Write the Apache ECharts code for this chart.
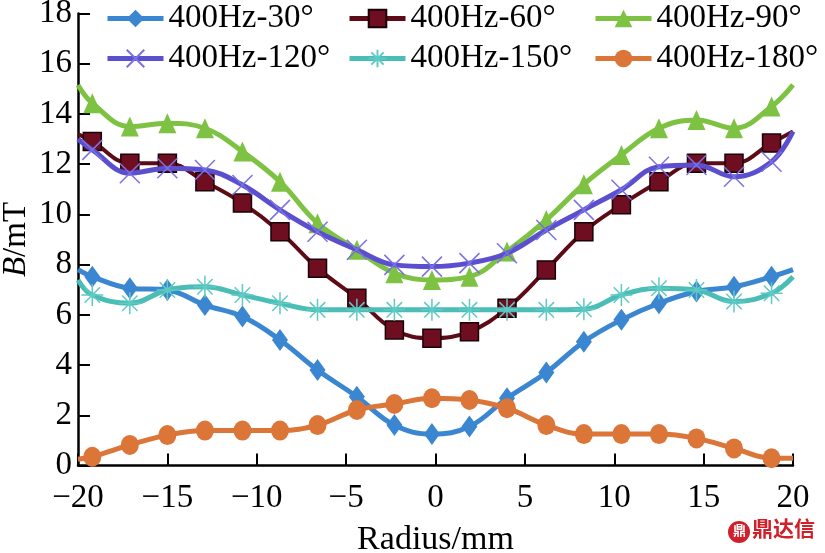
<!DOCTYPE html>
<html><head><meta charset="utf-8">
<script src="https://cdn.jsdelivr.net/npm/echarts@6/dist/echarts.min.js"></script>
<style>html,body{margin:0;padding:0;background:#fff}#c{width:825px;height:553px}</style>
</head><body><div id="c"></div>
<script>
// Radius positions (mm); first and last are the curve ends at the axis edges (no marker)
const radius = [-20, -19.2, -17.1, -15.0, -12.9, -10.8, -8.7, -6.6, -4.4, -2.3, -0.2, 1.9, 4.0, 6.2, 8.3, 10.4, 12.5, 14.6, 16.7, 18.8, 20];
const seriesNames = ['400Hz-30°', '400Hz-60°', '400Hz-90°', '400Hz-120°', '400Hz-150°', '400Hz-180°'];
const b30  = [7.8, 7.52, 7.06, 6.99, 6.39, 5.93, 5.0, 3.80, 2.74, 1.61, 1.25, 1.55, 2.68, 3.70, 4.93, 5.80, 6.46, 6.93, 7.12, 7.52, 7.8];
const b60  = [13.2, 12.9, 12.04, 12.04, 11.3, 10.45, 9.31, 7.86, 6.66, 5.4, 5.07, 5.33, 6.26, 7.79, 9.31, 10.38, 11.3, 12.04, 12.04, 12.84, 13.3];
const b90  = [15.15, 14.43, 13.5, 13.63, 13.43, 12.5, 11.3, 9.65, 8.59, 7.66, 7.39, 7.52, 8.52, 9.78, 11.2, 12.37, 13.43, 13.76, 13.43, 14.3, 15.16];
const b120 = [13.0, 12.57, 11.64, 11.84, 11.77, 11.17, 10.18, 9.31, 8.59, 7.99, 7.92, 8.06, 8.45, 9.38, 10.18, 10.98, 11.9, 11.97, 11.5, 12.1, 13.3];
const b150 = [7.39, 6.79, 6.46, 6.99, 7.12, 6.79, 6.46, 6.2, 6.2, 6.2, 6.2, 6.2, 6.2, 6.2, 6.22, 6.79, 7.06, 6.99, 6.53, 6.86, 7.52];
const b180 = [0.25, 0.35, 0.82, 1.21, 1.39, 1.39, 1.39, 1.61, 2.21, 2.45, 2.68, 2.61, 2.28, 1.61, 1.25, 1.25, 1.25, 1.08, 0.68, 0.29, 0.29];
const xTicks = [-20, -15, -10, -5, 0, 5, 10, 15, 20];
const yTicks = [0, 2, 4, 6, 8, 10, 12, 14, 16, 18];

const values = [b30, b60, b90, b120, b150, b180];
const FONT = 'Liberation Serif';

function mk(vals) {
  return radius.map((x, i) => {
    const item = { value: [x, vals[i]] };
    if (i === 0 || i === radius.length - 1) item.symbol = 'none';
    return item;
  });
}

const styles = [
  { color: '#3b86d1', symbol: 'diamond', size: [16, 22], lw: 5, item: { color: '#3b86d1' } },
  { color: '#5e0b18', symbol: 'rect', size: [18, 18], lw: 4, item: { color: '#6e0e20', borderColor: '#1a0006', borderWidth: 1.5 } },
  { color: '#7dc242', symbol: 'triangle', size: [18, 20], lw: 5, item: { color: '#7dc242' } },
  { color: '#5b4fd0', symbol: 'path://M0,0L10,10M10,0L0,10', size: [20, 20], lw: 5, item: { color: 'rgba(0,0,0,0)', borderColor: '#7a72e0', borderWidth: 1.5 } },
  { color: '#4bbdb7', symbol: 'path://M5,0L5,10M0,5L10,5M1.5,1.5L8.5,8.5M8.5,1.5L1.5,8.5', size: [22, 22], lw: 5, item: { color: 'rgba(0,0,0,0)', borderColor: '#5fcac4', borderWidth: 1.5 } },
  { color: '#db7538', symbol: 'circle', size: [18, 20], lw: 5, item: { color: '#db7538' } }
];

const series = seriesNames.map((name, k) => ({
  name: name,
  type: 'line',
  smooth: 0.4,
  data: mk(values[k]),
  symbol: styles[k].symbol,
  symbolSize: styles[k].size,
  showAllSymbol: true,
  lineStyle: { color: styles[k].color, width: styles[k].lw },
  itemStyle: styles[k].item,
  emphasis: { disabled: true },
  z: 2 + k
}));

const legendPos = [
  { left: 105, top: 2 }, { left: 347, top: 2 }, { left: 593, top: 2 },
  { left: 105, top: 42 }, { left: 347, top: 42 }, { left: 593, top: 42 }
];
const legends = seriesNames.map((name, k) => ({
  data: [name],
  left: legendPos[k].left,
  top: legendPos[k].top,
  padding: 0,
  itemWidth: 56,
  itemHeight: 22,
  selectedMode: false,
  lineStyle: { width: 5 },
  textStyle: { fontFamily: FONT, fontSize: 33, color: '#000', padding: [0, 0, 0, 0] }
}));

const fmt = v => (v < 0 ? '\u2212' + Math.abs(v) : String(v));

const chart = echarts.init(document.getElementById('c'), null, { renderer: 'canvas' });
chart.setOption({
  animation: false,
  backgroundColor: '#fff',
  grid: { left: 78, right: 32, top: 13.5, bottom: 87.5, containLabel: false, outerBoundsMode: 'none' },
  legend: legends,
  xAxis: {
    type: 'value', min: xTicks[0], max: xTicks[xTicks.length - 1], interval: 5,
    name: 'Radius/mm', nameLocation: 'middle', nameGap: 58,
    nameTextStyle: { fontFamily: FONT, fontSize: 34, color: '#000' },
    axisLine: { onZero: false, lineStyle: { color: '#000', width: 2.5 } },
    axisTick: { inside: true, length: 12, lineStyle: { color: '#000', width: 2 } },
    axisLabel: { fontFamily: FONT, fontSize: 33, color: '#000', margin: 16, formatter: fmt },
    splitLine: { show: false }
  },
  yAxis: {
    type: 'value', min: yTicks[0], max: yTicks[yTicks.length - 1], interval: 2,
    name: '{i|B}/mT', nameLocation: 'middle', nameGap: 45, nameMoveOverlap: false,
    nameTextStyle: { fontFamily: FONT, fontSize: 33, color: '#000',
      rich: { i: { fontFamily: FONT, fontSize: 33, fontStyle: 'italic', color: '#000' } } },
    axisLine: { show: true, onZero: false, lineStyle: { color: '#000', width: 2.5 } },
    axisTick: { show: true, inside: true, length: 12, lineStyle: { color: '#000', width: 2 } },
    axisLabel: { fontFamily: FONT, fontSize: 33, color: '#000', margin: 6 },
    splitLine: { show: false }
  },
  graphic: [
    { type: 'circle', left: 728, top: 521, shape: { r: 11 }, style: { fill: '#d0202a' } },
    { type: 'text', left: 733, top: 524, style: { text: '鼎', fill: '#fff', font: 'bold 13px "Noto Sans CJK SC"' } },
    { type: 'text', left: 752, top: 518, style: { text: '鼎达信', fill: '#d0202a', font: 'bold 21px "Noto Sans CJK SC"' } }
  ],
  series: series
});
</script>
</body></html>
